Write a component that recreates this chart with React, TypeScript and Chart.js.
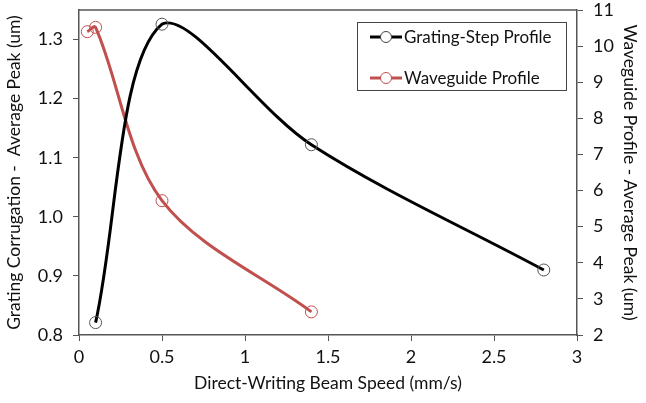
import React, { useEffect, useRef } from "react";
import { Chart, registerables } from "chart.js";

Chart.register(...registerables);

const gratingSpeed = [0.1, 0.5, 1.4, 2.8];
const gratingPeak = [0.821, 1.326, 1.122, 0.91];
const waveguideSpeed = [0.05, 0.1, 0.5, 1.4];
const waveguidePeak = [10.4, 10.52, 5.72, 2.64];

const xTicks = [0, 0.5, 1, 1.5, 2, 2.5, 3];
const leftTicks = [0.8, 0.9, 1.0, 1.1, 1.2, 1.3];
const rightTicks = [2, 3, 4, 5, 6, 7, 8, 9, 10, 11];

const seriesNames = ["Grating-Step Profile", "Waveguide Profile"];
const xTitle = "Direct-Writing Beam Speed (mm/s)";
const leftTitle = "Grating Corrugation -  Average Peak (um)";
const rightTitle = "Waveguide Profile - Average Peak (um)";

const FONT = "Lato, 'Open Sans', sans-serif";
const RED = "#C0504D";
const TICK_SIZE = 18;
const TITLE_SIZE = 17.5;

const frameAndLegend = {
  id: "frameAndLegend",
  afterDatasetsDraw(chart: any) {
    const { ctx, chartArea } = chart;
    ctx.save();
    ctx.strokeStyle = "#555";
    ctx.lineWidth = 1.5;
    ctx.beginPath();
    ctx.moveTo(chartArea.left, chartArea.top);
    ctx.lineTo(chartArea.right, chartArea.top);
    ctx.stroke();
    // legend box
    const bx = chartArea.right - 220;
    const by = chartArea.top + 12;
    const bw = 209;
    const bh = 68;
    ctx.fillStyle = "#fff";
    ctx.fillRect(bx, by, bw, bh);
    ctx.strokeStyle = "#444";
    ctx.lineWidth = 1;
    ctx.strokeRect(bx + 0.5, by + 0.5, bw, bh);
    const rows = [
      { name: seriesNames[0], line: "#000", pt: "#444", y: by + 15 },
      { name: seriesNames[1], line: RED, pt: RED, y: by + 56 },
    ];
    rows.forEach((r) => {
      ctx.strokeStyle = r.line;
      ctx.lineWidth = 3;
      ctx.beginPath();
      ctx.moveTo(bx + 13, r.y);
      ctx.lineTo(bx + 45, r.y);
      ctx.stroke();
      ctx.strokeStyle = r.pt;
      ctx.lineWidth = 1;
      ctx.fillStyle = "#fff";
      ctx.beginPath();
      ctx.arc(bx + 29, r.y, 5.5, 0, Math.PI * 2);
      ctx.fill();
      ctx.stroke();
      ctx.fillStyle = "#111";
      ctx.font = `17px ${FONT}`;
      ctx.textBaseline = "middle";
      ctx.textAlign = "left";
      ctx.fillText(r.name, bx + 47, r.y + 1);
    });
    ctx.restore();
  },
};

export default function App() {
  const ref = useRef<HTMLCanvasElement>(null);
  useEffect(() => {
    if (!ref.current) return;
    const chart = new Chart(ref.current, {
      type: "line",
      data: {
        datasets: [
          {
            label: seriesNames[0],
            data: gratingSpeed.map((x, i) => ({ x, y: gratingPeak[i] })),
            yAxisID: "y",
            borderColor: "#000",
            borderWidth: 3,
            tension: 0.33,
            pointRadius: 6,
            pointBorderWidth: 1,
            pointBorderColor: "#555",
            pointBackgroundColor: "rgba(0,0,0,0)",
            fill: false,
          },
          {
            label: seriesNames[1],
            data: waveguideSpeed.map((x, i) => ({ x, y: waveguidePeak[i] })),
            yAxisID: "y1",
            borderColor: RED,
            borderWidth: 3,
            tension: 0.33,
            pointRadius: 6,
            pointBorderWidth: 1,
            pointBorderColor: RED,
            pointBackgroundColor: "rgba(0,0,0,0)",
            fill: false,
          },
        ],
      },
      options: {
        animation: false,
        responsive: true,
        maintainAspectRatio: false,
        layout: { padding: { top: 10, right: 2, left: 0, bottom: 5 } },
        plugins: { legend: { display: false }, tooltip: { enabled: false } },
        scales: {
          x: {
            type: "linear",
            min: 0,
            max: 3,
            afterBuildTicks: (axis: any) => {
              axis.ticks = xTicks.map((v) => ({ value: v }));
            },
            afterFit: (s: any) => {
              s.height = 63;
              s.paddingLeft = 0;
              s.paddingRight = 0;
            },
            ticks: {
              font: { family: FONT, size: TICK_SIZE },
              color: "#111",
              padding: 5,
              maxRotation: 0,
              callback: (v: any) => String(v),
            },
            grid: { drawOnChartArea: false, drawTicks: true, tickLength: 6, color: "#555" },
            border: { display: true, color: "#555", width: 1.5 },
            title: { display: true, text: xTitle, font: { family: FONT, size: TITLE_SIZE }, color: "#111", padding: { top: 0, bottom: 4 } },
          },
          y: {
            type: "linear",
            position: "left",
            min: 0.8,
            max: 1.35,
            afterBuildTicks: (axis: any) => {
              axis.ticks = leftTicks.map((v) => ({ value: v }));
            },
            afterFit: (s: any) => {
              s.width = 79;
              s.paddingTop = 0;
              s.paddingBottom = 0;
            },
            ticks: {
              font: { family: FONT, size: TICK_SIZE },
              color: "#111",
              padding: 10,
              callback: (v: any) => Number(v).toFixed(1),
            },
            grid: { drawOnChartArea: false, drawTicks: true, tickLength: 6, color: "#555" },
            border: { display: true, color: "#555", width: 1.5 },
            title: { display: true, text: leftTitle, font: { family: FONT, size: TITLE_SIZE }, color: "#111", padding: { top: 4, bottom: 0 } },
          },
          y1: {
            type: "linear",
            position: "right",
            min: 2,
            max: 11,
            afterBuildTicks: (axis: any) => {
              axis.ticks = rightTicks.map((v) => ({ value: v }));
            },
            afterFit: (s: any) => {
              s.width = 67;
              s.paddingTop = 0;
              s.paddingBottom = 0;
            },
            ticks: {
              font: { family: FONT, size: TICK_SIZE },
              color: "#111",
              padding: 10,
              callback: (v: any) => String(v),
            },
            grid: { drawOnChartArea: false, drawTicks: true, tickLength: 6, color: "#555" },
            border: { display: true, color: "#555", width: 1.5 },
            title: { display: true, text: rightTitle, font: { family: FONT, size: TITLE_SIZE }, color: "#111", padding: { top: 4, bottom: 0 } },
          },
        },
      },
      plugins: [frameAndLegend],
    } as any);
    return () => chart.destroy();
  }, []);
  return (
    <div style={{ position: "fixed", left: 0, top: 0, width: 646, height: 403, background: "#fff" }}>
      <canvas ref={ref} />
    </div>
  );
}
